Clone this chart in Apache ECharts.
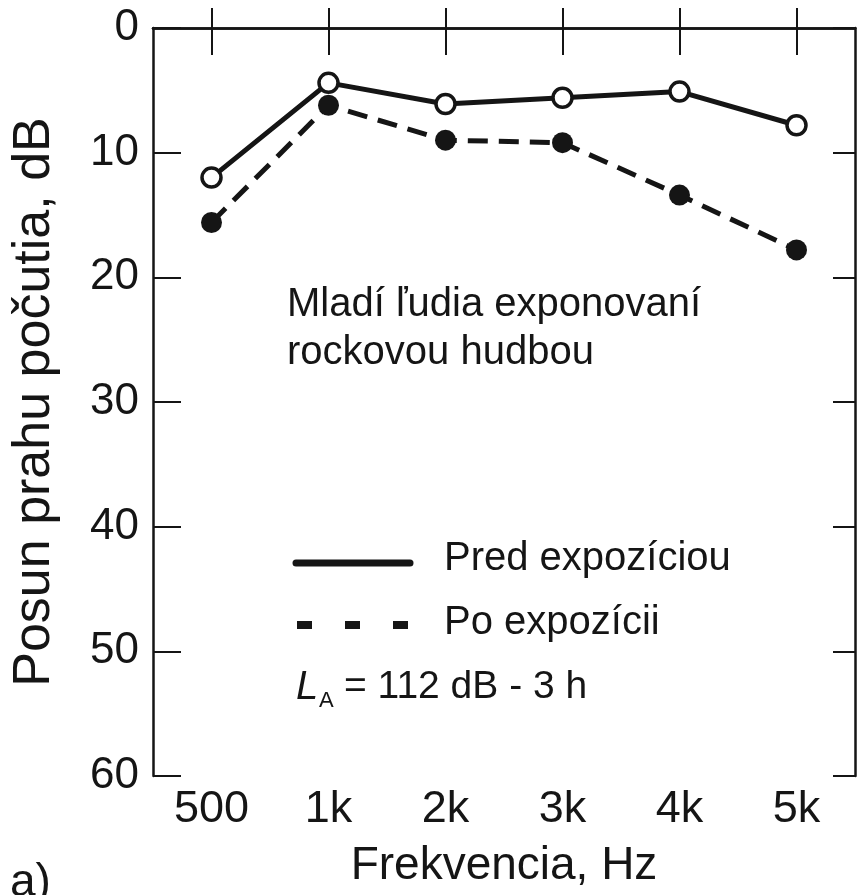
<!DOCTYPE html>
<html>
<head>
<meta charset="utf-8">
<script src="https://cdn.jsdelivr.net/npm/echarts@6/dist/echarts.min.js"></script>
<style>
html,body{margin:0;padding:0;background:#fff;}
#chart{width:857px;height:895px;}
</style>
</head>
<body>
<div id="chart"></div>
<script>
var categories = ['500', '1k', '2k', '3k', '4k', '5k'];
var predValues = [12.0, 4.4, 6.1, 5.6, 5.1, 7.8];
var poValues = [15.6, 6.2, 9.0, 9.2, 13.4, 17.8];
var yTicks = [0, 10, 20, 30, 40, 50, 60];
var xAxisTitle = 'Frekvencia, Hz';
var yAxisTitle = 'Posun prahu počutia, dB';
var predName = 'Pred expozíciou';
var poName = 'Po expozícii';
var noteLines = ['Mladí ľudia exponovaní', 'rockovou hudbou'];

var FONT = '"Liberation Sans", Arial, Helvetica, sans-serif';
var INK = '#151515';

var chart = echarts.init(document.getElementById('chart'), null, {renderer: 'canvas'});

function frameAxisLine() {
  return {show: true, lineStyle: {color: INK, width: 2.5}};
}

var option = {
  backgroundColor: '#fff',
  animation: false,
  grid: {left: 153, right: 2, top: 28, bottom: 119, containLabel: false, outerBoundsMode: 'none'},
  xAxis: [
    {
      type: 'category', data: categories, position: 'bottom', boundaryGap: true,
      axisLine: frameAxisLine(),
      axisTick: {show: true, inside: true, length: 20, alignWithLabel: true, lineStyle: {color: INK, width: 2}},
      axisLabel: {fontFamily: FONT, fontSize: 45, color: INK, margin: 11},
      splitLine: {show: false},
      name: xAxisTitle, nameLocation: 'middle', nameGap: 67,
      nameTextStyle: {fontFamily: FONT, fontSize: 46, color: INK}
    },
    {
      type: 'category', data: categories, position: 'top', boundaryGap: true,
      axisLine: frameAxisLine(),
      axisTick: {show: true, inside: true, length: 27, alignWithLabel: true, lineStyle: {color: INK, width: 2}},
      axisLabel: {show: false},
      splitLine: {show: false}
    }
  ],
  yAxis: [
    {
      type: 'value', inverse: true, min: yTicks[0], max: yTicks[yTicks.length - 1], interval: 10,
      position: 'left',
      axisLine: frameAxisLine(),
      axisTick: {show: true, inside: true, length: 28, lineStyle: {color: INK, width: 2}},
      axisLabel: {fontFamily: FONT, fontSize: 44, color: INK, margin: 14},
      splitLine: {show: false},
      name: yAxisTitle, nameLocation: 'middle', nameGap: 92,
      nameTextStyle: {fontFamily: FONT, fontSize: 52, color: INK}
    },
    {
      type: 'value', inverse: true, min: yTicks[0], max: yTicks[yTicks.length - 1], interval: 10,
      position: 'right',
      axisLine: frameAxisLine(),
      axisTick: {show: true, inside: true, length: 22, lineStyle: {color: INK, width: 2}},
      axisLabel: {show: false},
      splitLine: {show: false}
    }
  ],
  series: [
    {
      name: poName, type: 'line', data: poValues, xAxisIndex: 0, yAxisIndex: 0,
      symbol: 'circle', symbolSize: 21, showSymbol: true,
      lineStyle: {color: INK, width: 5, type: [20, 11]},
      itemStyle: {color: INK, borderColor: INK, borderWidth: 0},
      z: 2
    },
    {
      name: predName, type: 'line', data: predValues, xAxisIndex: 0, yAxisIndex: 0,
      symbol: 'circle', symbolSize: 19, showSymbol: true,
      lineStyle: {color: INK, width: 5, type: 'solid'},
      itemStyle: {color: '#fff', borderColor: INK, borderWidth: 3.5},
      z: 3
    }
  ],
  graphic: [
    {type: 'text', left: 287, top: 306 - 21, style: {text: noteLines[0], font: '40px ' + FONT, fill: INK}},
    {type: 'text', left: 287, top: 354 - 21, style: {text: noteLines[1], font: '40px ' + FONT, fill: INK}},
    {type: 'line', shape: {x1: 296, y1: 563, x2: 410, y2: 563}, style: {stroke: INK, lineWidth: 7, lineCap: 'round'}},
    {type: 'rect', shape: {x: 297, y: 621, width: 15, height: 8}, style: {fill: INK}},
    {type: 'rect', shape: {x: 345, y: 621, width: 15, height: 8}, style: {fill: INK}},
    {type: 'rect', shape: {x: 393, y: 621, width: 15, height: 8}, style: {fill: INK}},
    {type: 'text', left: 444, top: 560 - 21, style: {text: predName, font: '40px ' + FONT, fill: INK}},
    {type: 'text', left: 444, top: 624 - 21, style: {text: poName, font: '40px ' + FONT, fill: INK}},
    {type: 'text', left: 296, top: 689 - 21, style: {text: 'L', font: 'italic 40px ' + FONT, fill: INK}},
    {type: 'text', left: 319, top: 690, style: {text: 'A', font: '22px ' + FONT, fill: INK}},
    {type: 'text', left: 344, top: 689 - 21, style: {text: '= 112 dB - 3 h', font: '39px ' + FONT, fill: INK}},
    {type: 'text', left: 10, top: 860, style: {text: 'a)', font: '46px ' + FONT, fill: INK}}
  ]
};
chart.setOption(option);
</script>
</body>
</html>
